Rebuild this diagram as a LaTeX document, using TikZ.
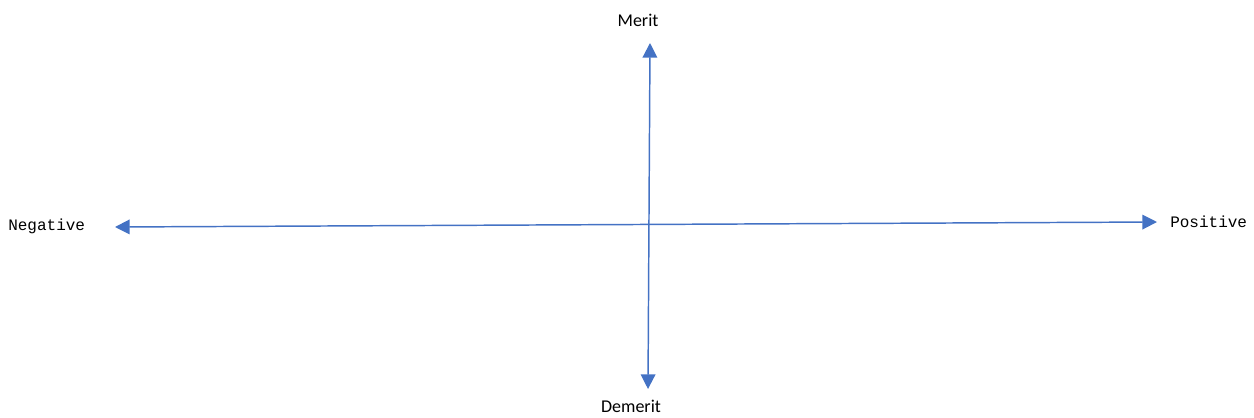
\documentclass[tikz,border=0pt]{standalone}
\usepackage{fontspec}
\setmainfont{Carlito}
\newfontfamily\monofont{Liberation Mono}
\usetikzlibrary{arrows.meta}
\definecolor{axisblue}{RGB}{68,114,196}
\tikzset{
  axis/.style={axisblue,line width=1.1pt,{Triangle[length=11pt,width=11pt]}-{Triangle[length=11pt,width=11pt]}},
  sidelabel/.style={font=\monofont\fontsize{12}{14}\selectfont,inner sep=0pt},
  endlabel/.style={font=\fontsize{13.5}{16}\selectfont,inner sep=0pt}
}
\begin{document}
\begin{tikzpicture}[x=0.75pt,y=-0.75pt]
  \useasboundingbox (0,0) rectangle (1254,418);
  % axis ends
  \coordinate (left) at (115,227);
  \coordinate (right) at (1157,222);
  \coordinate (top) at (650,43);
  \coordinate (bottom) at (648,389);
  \draw[axis] (left) -- (right);
  \draw[axis] (top) -- (bottom);
  % labels
  \node[sidelabel,anchor=west] (neg) at (8,226) {Negative};
  \node[sidelabel,anchor=west] (pos) at (1170,222) {Positive};
  \node[endlabel] (merit) at (638,20) {Merit};
  \node[endlabel] (demerit) at (631,406) {Demerit};
\end{tikzpicture}
\end{document}
